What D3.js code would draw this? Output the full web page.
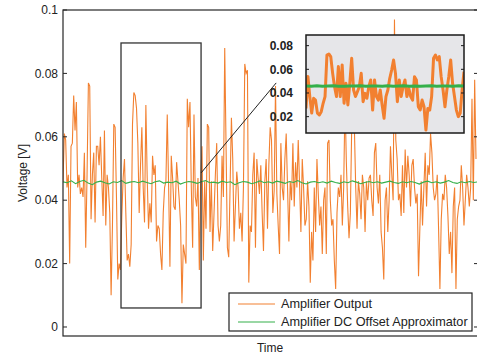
<!DOCTYPE html>
<html>
<head>
<meta charset="utf-8">
<script src="https://cdn.jsdelivr.net/npm/d3@7"></script>
<style>
	body { margin: 0; background: #fff; }
	text { font-family: "Liberation Sans", Arial, sans-serif; fill: #222; }
</style>
</head>
<body>
<div id="chart"></div>
<script>
/************ Data ************/
var yTicks = [0, 0.02, 0.04, 0.06, 0.08, 0.1];
var insetTicks = [0.02, 0.04, 0.06, 0.08];
var seriesNames = ["Amplifier Output", "Amplifier DC Offset Approximator"];

// amplifier output left to right
var amplifierOutput = [
	.046,.061,.059,.044,.048,.020,.057,.058,.073,.062,.071,.044,.048,.042,.044,.041,.055,.025,.048,.077,
	.076,.034,.048,.055,.033,.057,.057,.051,.060,.047,.035,.062,.032,.048,.044,.036,.010,.032,.064,.063,
	.041,.015,.020,.018,.035,.047,.053,.036,.021,.023,.019,.026,.064,.074,.073,.069,.058,.036,.051,.063,
	.044,.033,.070,.047,
	.031,.039,.033,.054,.048,.051,.027,.032,.031,.023,.018,.036,.044,.046,.067,.045,.019,.054,.047,.038,
	.037,.052,.046,.040,.032,.0075,.026,.023,.020,.072,.063,.071,.044,.025,.067,.041,.038,.047,.018,.046,
	.057,.021,.046,.031,.064,.063,.030,.046,.024,.036,.048,.058,.032,.027,.032,.054,.041,.088,.057,.025,
	.022,.044,.066,
	.053,.027,.038,.049,.044,.031,.036,.027,.044,.083,.080,.081,.014,.032,.030,.048,.055,.025,.053,.047,
	.042,.051,.036,.024,.046,.053,.031,.051,.063,.059,.036,.043,.076,.042,.032,.023,.058,.044,.040,.053,
	.061,.044,.027,.046,.040,.058,.038,.052,.044,.059,.045,.030,.053,.044,.032,.034,.046,.038,.014,.030,
	.021,.044,
	.030,.053,.042,.032,.038,.023,.040,.044,.023,.058,.059,.040,.032,.034,.021,.012,.036,.044,.041,.048,
	.032,.044,.072,.052,.038,.028,.036,.063,.072,.063,.044,.031,.046,.042,.034,.048,.044,.030,.046,.040,
	.047,.048,.040,.035,.055,.058,.044,.039,.048,.030,.025,.015,.040,.044,.030,.040,.057,.048,.040,.097,
	.059,.053,.040,
	.042,.035,.051,.036,.056,.044,.054,.048,.038,.051,.053,.044,.039,.042,.016,.031,.046,.032,.044,.055,
	.038,.051,.048,.061,.055,.044,.040,.042,.048,.031,.012,.034,.042,.040,.048,.044,.035,.023,.030,.017,
	.038,.044,.012,.034,.038,.040,.051,.044,.032,.040,.048,.044,.038,.044,.072,.040,.078,.053
];

// DC offset approximator
var dcOffset = [
	.0458,.0455,.0461,.0452,.0459,.0463,.0454,.0449,.0457,.0460,.0455,.0451,.0458,.0456,.0462,.0453,.0457,.0459,.0455,.0460,
	.0456,.0452,.0458,.0461,.0454,.0457,.0455,.0460,.0451,.0456,.0459,.0457,.0453,.0458,.0462,.0455,.0457,.0454,.0460,.0456,
	.0458,.0449,.0455,.0459,.0457,.0452,.0456,.0461,.0455,.0458,.0454,.0460,.0457,.0453,.0459,.0456,.0462,.0455,.0451,.0457,
	.0459,.0455,.0458,.0454,.0460,.0456,.0453,.0458,.0455,.0461,.0457,.0452,.0456,.0459,.0455,.0458,.0454,.0457,.0460,.0456,
	.0453,.0458,.0455,.0459,.0456,.0451,.0457,.0460,.0455,.0458,.0454,.0457,.0462,.0456,.0453,.0458,.0455,.0459,.0456,.0458
];

// zoomed view
var insetOutput = [
	.027,.054,.037,.023,.0355,.034,.023,.0214,.0242,.0313,.037,.0721,.073,.0707,.0566,.0453,.037,.0623,.037,.0637,
	.0313,.0482,.0299,.0482,.0693,.0425,.037,.0411,.0453,.0566,.0327,.0397,.0355,.0453,.051,.0256,.051,.037,.034,.0425,
	.0299,.0186,.037,.0425,.0524,.0594,.0679,.0566,.0327,.051,.037,.0453,.051,.037,.0439,.037,.034,.0538,.051,.0284,
	.0256,.034,.0284,.0087,.027,.0256,.037,.0693,.0721,.0679,.0707,.0538,.0425,.0284,.0425,.0538,.0679,.0482,.037,.0256,
	.020,.0228,.0425,.058
];
var insetOffset = [
	.0460,.0458,.0461,.0457,.0459,.0462,.0458,.0456,.0460,.0459,.0461,.0457,.0459,.0460,.0458,.0461,.0457,.0459,.0462,.0458,
	.0460,.0457,.0459,.0461,.0458,.0460,.0459,.0457,.0461,.0459
];

// zoom box (sample index / voltage) and connector end points
var zoomBox = { i0: 43.4, i1: 103.3, v0: 0.006, v1: 0.0896 };
var connector = [[103.3, 0.0486], [159.5, 0.0770]];

/************ Layout ************/
var width = 477, height = 358;
var plotLeft = 63, plotRight = 478, plotTop = 10, plotBottom = 336;
var insetLeft = 306, insetRight = 464, insetTop = 35, insetBottom = 133;
var orange = "#f28030", green = "#34b04a", axisColor = "#262626";

var svg = d3.select("#chart").append("svg")
	.attr("width", width)
	.attr("height", height);

var x = d3.scaleLinear()
	.domain([0, 309])
	.range([plotLeft, 476]);
var xDc = d3.scaleLinear()
	.domain([0, dcOffset.length - 1])
	.range([plotLeft, plotRight]);
var y = d3.scaleLinear()
	.domain([-0.00284, 0.1])
	.range([plotBottom, plotTop]);

drawMain();
drawLegend();
drawInset();

/* Description: main axes, both series, zoom box and connector */
function drawMain(){
	svg.append("clipPath").attr("id", "clip-main")
		.append("rect")
		.attr("x", plotLeft).attr("y", plotTop)
		.attr("width", plotRight - plotLeft).attr("height", plotBottom - plotTop);

	var line = d3.line()
		.x(function(d, i){ return x(i); })
		.y(function(d){ return y(d); });
	var lineDc = d3.line()
		.x(function(d, i){ return xDc(i); })
		.y(function(d){ return y(d); });

	svg.append("path")
		.attr("clip-path", "url(#clip-main)")
		.attr("d", line(amplifierOutput))
		.attr("fill", "none")
		.attr("stroke", orange)
		.attr("stroke-width", 1.1);
	svg.append("path")
		.attr("clip-path", "url(#clip-main)")
		.attr("d", lineDc(dcOffset))
		.attr("fill", "none")
		.attr("stroke", green)
		.attr("stroke-width", 1.1);

	// frame
	svg.append("rect")
		.attr("x", plotLeft).attr("y", plotTop)
		.attr("width", plotRight - plotLeft).attr("height", plotBottom - plotTop)
		.attr("fill", "none")
		.attr("stroke", axisColor)
		.attr("stroke-width", 1.2);

	// y ticks, inside on both sides
	var ticks = svg.append("g");
	ticks.selectAll(".tick-l").data(yTicks).enter().append("line")
		.attr("x1", plotLeft).attr("x2", plotLeft + 4)
		.attr("y1", function(d){ return y(d); }).attr("y2", function(d){ return y(d); })
		.attr("stroke", axisColor);
	ticks.selectAll(".tick-r").data(yTicks).enter().append("line")
		.attr("x1", plotRight - 4).attr("x2", plotRight)
		.attr("y1", function(d){ return y(d); }).attr("y2", function(d){ return y(d); })
		.attr("stroke", axisColor);
	ticks.selectAll("text").data(yTicks).enter().append("text")
		.attr("x", plotLeft - 5)
		.attr("y", function(d){ return y(d); })
		.attr("dy", "0.35em")
		.attr("text-anchor", "end")
		.attr("font-size", 12)
		.text(function(d){ return String(+d.toFixed(2)); });

	svg.append("text")
		.attr("transform", "translate(27," + ((plotTop + plotBottom) / 2) + ") rotate(-90)")
		.attr("text-anchor", "middle")
		.attr("font-size", 12)
		.text("Voltage [V]");
	svg.append("text")
		.attr("x", 270).attr("y", 352)
		.attr("text-anchor", "middle")
		.attr("font-size", 12)
		.text("Time");

	// zoom box
	svg.append("rect")
		.attr("x", x(zoomBox.i0)).attr("y", y(zoomBox.v1))
		.attr("width", x(zoomBox.i1) - x(zoomBox.i0))
		.attr("height", y(zoomBox.v0) - y(zoomBox.v1))
		.attr("fill", "none")
		.attr("stroke", "#333")
		.attr("stroke-width", 1.3);
	svg.append("line")
		.attr("x1", x(connector[0][0])).attr("y1", y(connector[0][1]))
		.attr("x2", x(connector[1][0])).attr("y2", y(connector[1][1]))
		.attr("stroke", "#222")
		.attr("stroke-width", 1);
}

/* Description: legend box in the lower right */
function drawLegend(){
	var g = svg.append("g").attr("transform", "translate(229,293)");
	g.append("rect")
		.attr("width", 243).attr("height", 38)
		.attr("fill", "#fff")
		.attr("stroke", "#222")
		.attr("stroke-width", 1.2);
	var rows = g.selectAll(".row").data(seriesNames).enter().append("g")
		.attr("transform", function(d, i){ return "translate(0," + (11 + i * 18) + ")"; });
	rows.append("line")
		.attr("x1", 9).attr("x2", 46)
		.attr("stroke", function(d, i){ return i ? green : orange; })
		.attr("stroke-width", 1.1);
	rows.append("text")
		.attr("x", 52)
		.attr("dy", "0.35em")
		.attr("font-size", 12.7)
		.text(function(d){ return d; });
}

/* Description: magnified inset in the upper right */
function drawInset(){
	var xi = d3.scaleLinear().domain([0, insetOutput.length - 1]).range([insetLeft, insetRight]);
	var xo = d3.scaleLinear().domain([0, insetOffset.length - 1]).range([insetLeft, insetRight]);
	var yi = d3.scaleLinear().domain([0.0062, 0.089]).range([insetBottom, insetTop]);

	svg.append("rect")
		.attr("x", insetLeft).attr("y", insetTop)
		.attr("width", insetRight - insetLeft).attr("height", insetBottom - insetTop)
		.attr("fill", "#e6e6e9");

	svg.append("clipPath").attr("id", "clip-inset")
		.append("rect")
		.attr("x", insetLeft).attr("y", insetTop)
		.attr("width", insetRight - insetLeft).attr("height", insetBottom - insetTop);

	svg.append("path")
		.attr("clip-path", "url(#clip-inset)")
		.attr("d", d3.line().x(function(d, i){ return xi(i); }).y(function(d){ return yi(d); })(insetOutput))
		.attr("fill", "none")
		.attr("stroke", orange)
		.attr("stroke-width", 3)
		.attr("stroke-linejoin", "round");
	svg.append("path")
		.attr("clip-path", "url(#clip-inset)")
		.attr("d", d3.line().x(function(d, i){ return xo(i); }).y(function(d){ return yi(d); })(insetOffset))
		.attr("fill", "none")
		.attr("stroke", green)
		.attr("stroke-width", 3);

	svg.append("rect")
		.attr("x", insetLeft).attr("y", insetTop)
		.attr("width", insetRight - insetLeft).attr("height", insetBottom - insetTop)
		.attr("fill", "none")
		.attr("stroke", "#1a1a1a")
		.attr("stroke-width", 1.5);

	var g = svg.append("g");
	g.selectAll(".itl").data(insetTicks).enter().append("line")
		.attr("x1", insetLeft).attr("x2", insetLeft + 3)
		.attr("y1", function(d){ return yi(d); }).attr("y2", function(d){ return yi(d); })
		.attr("stroke", "#1a1a1a");
	g.selectAll(".itr").data(insetTicks).enter().append("line")
		.attr("x1", insetRight - 3).attr("x2", insetRight)
		.attr("y1", function(d){ return yi(d); }).attr("y2", function(d){ return yi(d); })
		.attr("stroke", "#1a1a1a");
	g.selectAll("text").data(insetTicks).enter().append("text")
		.attr("x", insetLeft - 13)
		.attr("y", function(d){ return yi(d); })
		.attr("dy", "0.35em")
		.attr("text-anchor", "end")
		.attr("font-size", 12)
		.attr("font-weight", "bold")
		.text(function(d){ return d.toFixed(2); });
}
</script>
</body>
</html>
